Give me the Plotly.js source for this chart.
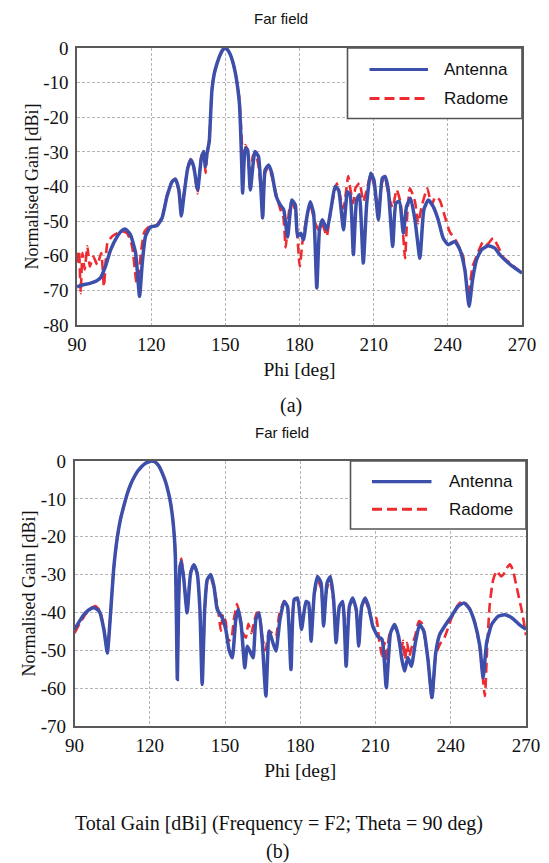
<!DOCTYPE html>
<html>
<head>
<meta charset="utf-8">
<script src="https://cdn.plot.ly/plotly-3.0.1.min.js"></script>
<style>
html,body{margin:0;padding:0;background:#fff;}
#chart{width:549px;height:863px;}
</style>
</head>
<body>
<div id="chart"></div>
<script>
// ---------- Data: plot (a) ----------
const phiAntA = [90,92,95.5,98,99.5,101.5,103.6,106.3,108,109.6,111.6,113.7,115.3,116.4,117.7,119.7,122.4,124.4,126.4,128.5,129.8,131.2,132.2,133.2,134.8,136.1,137.2,138.8,140.2,141.2,141.9,142.6,143.5,144,144.6,145.5,146.5,148,149,150,151,152,153,154,155,155.7,156.2,156.6,157.0,158.1,159.0,160.1,162.0,163.4,165.1,166.1,167.5,168.8,170.6,172.2,173.6,175.2,176.9,178.3,179.2,180.5,181.6,183.0,184.3,185.7,187.0,188.1,189.3,191.1,192.7,194.4,195.8,197.8,199.4,200.5,201.8,203.1,204.2,205.8,207.2,208.8,210.1,211.9,213.5,214.6,215.9,217.7,219.0,220.4,222.0,223.3,224.9,226.7,228.7,230.3,232.1,234.1,236.1,238.1,240.1,242.8,244.9,246.9,248.6,250.0,251.6,253.6,256.3,259.0,261.0,264,267,270];
const gainAntA = [-69,-68.5,-67.9,-67.2,-66.4,-63.1,-58.3,-54.4,-52.8,-52.3,-53.9,-59.2,-71.7,-62.1,-54.4,-51.7,-51.3,-49.1,-42.9,-38.6,-37.9,-41,-48.5,-42.9,-34.7,-32.3,-34.2,-41,-32.3,-29.9,-34.2,-30.4,-27,-20,-12,-7.5,-4.8,-1.8,-0.5,0,-0.6,-1.9,-4,-7,-11.5,-16,-24,-33,-41.9,-28.9,-29.4,-41,-29.9,-31.3,-49.1,-35.2,-33.8,-36.2,-42.9,-45.3,-46.7,-54.6,-43.9,-45.3,-54.4,-53.5,-55.4,-48.7,-44.4,-47.7,-69.3,-52.5,-49.6,-52.5,-46.7,-40,-41,-52.5,-41.5,-42.5,-59.7,-43.9,-42.4,-62.1,-44.8,-36.2,-38.1,-49.6,-37.6,-37.1,-40.9,-57.3,-44.8,-44.3,-53.5,-45.8,-43.4,-49.6,-60.7,-46.7,-43.9,-45.8,-49.6,-54.9,-56.8,-55.9,-58.3,-64.1,-74.6,-66.9,-61.2,-58.3,-57.1,-57.8,-59.7,-61.8,-63.5,-65];

const phiRadA = [90,90.8,91.5,92.2,93.1,94.2,95.2,96.6,98.2,99.8,100.9,102.3,104.2,106.3,108.3,110.3,112.3,114.1,115.0,116.0,117.3,119.1,121.1,122.4,124.4,126.4,128.5,129.8,131.2,132.2,133.2,134.8,136.1,137.2,138.8,140.2,141.2,142.0,142.6,143.5,144,144.6,145.5,146.5,148,149,150,151,152,153,154,155,155.7,156.3,156.8,157.4,158.1,159.0,160.0,161.2,162.2,163.4,164.4,165.2,166.1,167.4,168.8,170.5,172.2,173.5,174.4,175.8,176.9,178.3,180.1,181.2,182.6,184.3,185.9,187.6,188.5,189.6,191,192.8,194.4,195.1,196,197.8,199.7,200.6,201.8,202.6,204.3,205.8,207.2,208.8,210.1,211.9,213.5,214.6,216.3,217.7,219.3,220.9,222.7,223.6,224.7,226.7,228.0,229.4,231.7,233.4,235,236.7,238.8,240.8,243.5,246.2,248.2,250.0,251.6,254.3,255.9,258.3,260.3,262.5,265,267.5,270];
const gainRadA = [-62,-58.5,-70.8,-59.2,-64,-57.3,-63.1,-60.2,-62.6,-59.2,-68.9,-56.3,-54.4,-53.5,-53,-53.5,-57.3,-67.9,-65,-58.3,-53,-51.7,-51.5,-51,-49,-42.5,-38.4,-37.8,-41.5,-47.8,-42.5,-34.5,-32,-34.5,-42,-31.5,-29.5,-36.1,-31,-26.5,-19.5,-12,-7.5,-4.8,-1.8,-0.5,0,-0.6,-1.9,-4,-7,-11,-15,-22,-28.5,-33,-28,-30,-39,-31,-30.5,-34,-40.5,-43,-36,-34.5,-37,-42,-46.5,-49,-57.6,-47,-44.5,-47,-63.1,-56,-50,-45,-49.5,-52.5,-51,-51.5,-54.4,-46,-41,-39.1,-41.5,-46.3,-37,-40.9,-44.8,-40.5,-39,-44.3,-41,-36.5,-39.5,-47.5,-38.5,-37.8,-43.4,-46,-40.9,-44.8,-60.7,-48,-40.5,-44.3,-50.6,-45.8,-40.5,-45.3,-43,-43.9,-48.7,-53.1,-55.9,-60.2,-71.7,-63.1,-60.2,-55.9,-56.8,-54.9,-57.3,-60.5,-62,-63.5,-65];

// ---------- Data: plot (b) ----------
const phiAntB = [90,92,94.4,96.5,97.9,99.9,101.7,103.1,104.2,105.6,107,108.3,109.7,111.1,112.5,113.9,115.3,116.7,118.1,119.5,120.9,122.2,123.5,125,126.3,127.5,128.4,129.2,129.8,130.2,130.6,131.0,131.5,132.0,132.6,133.6,134.9,136.3,137.6,138.9,140.0,140.9,141.9,142.9,144.3,145.6,146.9,148.9,150.3,151.6,152.9,154.3,155.3,156.5,157.9,158.9,159.9,161.2,162.3,163.6,164.9,166.3,167.6,168.9,170.3,171.9,173.6,174.9,176.3,177.6,178.9,180.5,182.3,183.3,184.3,185.6,186.9,188.3,189.3,190.7,192.0,193.3,194.3,195.6,196.9,198.3,199.6,200.9,202.3,203.3,204.5,205.9,207.2,208.9,210.9,212.6,214.3,216.0,217.6,219.2,220.5,221.6,222.9,224.3,225.9,227.6,229.3,230.9,232.5,234.0,235.6,237.6,240.3,242.9,245.3,247.6,249.6,251.6,252.9,254.3,256.3,258.9,261.6,264.3,267,270];
const gainAntB = [-44.5,-42.3,-40.1,-39,-38.8,-39.7,-44.5,-50.7,-41.9,-28.7,-20.5,-15.5,-11.8,-8.5,-6,-4.1,-2.6,-1.5,-0.7,-0.2,0,-0.3,-1.2,-3.2,-5.5,-8.5,-11.5,-15.5,-20,-25,-40,-57.7,-38,-28.5,-26.5,-31.4,-40.1,-29.6,-27.4,-29.6,-39.2,-59,-39.2,-31.4,-30,-33.1,-39.2,-41.4,-44.5,-49.8,-52,-41.9,-39.2,-43.6,-54.6,-48.9,-50.2,-52,-41.9,-40.1,-48,-62.1,-44.9,-47.6,-50.2,-41.9,-37.1,-38.4,-55.1,-36.6,-36.2,-44.5,-37.1,-37.5,-47.6,-34.9,-30.5,-32.2,-43.6,-32.2,-30.5,-36.6,-48,-38.4,-37.1,-54.2,-38.4,-36.2,-39.2,-48.9,-38.4,-36.2,-38.4,-43.6,-46.3,-47.1,-59.9,-45.4,-43.2,-46.3,-52.4,-55.5,-51.9,-54.2,-48,-43.2,-45,-52.4,-62.5,-50.7,-45.8,-43.6,-41,-38.4,-37.5,-39.2,-42.8,-48.9,-57.3,-48,-43.2,-41,-40.6,-41.4,-43,-44.5];

const phiRadB = [90,92,94.4,96.5,98.3,100.2,101.9,103.1,104.2,105.6,107,108.3,109.7,111.1,112.5,113.9,115.3,116.7,118.1,119.5,120.9,122.2,123.5,125,126.3,127.5,128.4,129.2,129.8,130.2,130.6,131.0,131.5,132.0,132.6,133.6,134.9,136.3,137.6,138.9,140.0,140.9,141.9,142.9,144.3,145.6,146.9,147.6,148.3,149.2,150.3,151.2,152.5,153.5,154.8,156,157.2,158.3,159.3,160.5,161.4,162.7,163.8,165,166.2,167.6,168.9,170.3,171.6,173.6,174.9,176.3,177.6,178.9,180.5,182.3,183.3,184.3,185.6,186.9,188.3,189.3,190.7,192.0,193.3,194.3,195.6,196.9,198.3,199.6,200.9,202.3,203.3,204.5,205.9,207.2,208.9,210.3,211.4,212.6,213.6,214.3,215.5,217.6,219.2,220.2,221,221.8,222.6,223.5,224.5,225.9,227.3,228.6,229.9,230.9,232.5,234.0,235.6,237.6,240.3,242.9,244.9,247.6,249.6,251.6,252.6,253.6,254.6,255.6,256.9,258.3,260.1,261,262.3,263.6,264.7,266.8,268.5,270];
const gainRadB = [-45.5,-43,-40.5,-39,-38.3,-39.6,-45,-50.2,-41.9,-28.7,-20.5,-15.5,-11.8,-8.5,-6,-4.1,-2.6,-1.5,-0.7,-0.2,0,-0.3,-1.2,-3.2,-5.5,-8.5,-11.5,-15.5,-20,-25,-40,-56,-37,-27.5,-25.8,-31,-39.5,-29.3,-27.2,-29.8,-39,-57,-39.5,-32,-31,-33.5,-38,-41,-44.8,-40.5,-42.5,-47.5,-47,-42,-37.8,-41,-45.5,-46.7,-43,-45.5,-43,-40,-41,-47,-50,-45,-45.5,-46.5,-40.6,-37,-38.5,-50,-36.8,-36.5,-43,-37.3,-38,-45,-35.5,-31.5,-33.5,-41,-33.5,-31.5,-37.5,-45,-38.5,-37.5,-47,-38.5,-36.8,-39.5,-46,-38.8,-36.8,-39,-42.5,-41.5,-47,-51.5,-48,-53,-46,-43.5,-47,-50,-47.5,-52.5,-48,-51.5,-49,-46,-42.3,-43,-48,-52,-63,-51.5,-48.5,-46.5,-41.5,-38,-37,-39,-42.5,-49.5,-56,-62.1,-48,-37.5,-31.4,-29.1,-30.5,-30,-28.3,-27.3,-28.7,-34.9,-40.1,-46];

// ---------- Axis ticks & labels ----------
const xTicks = [90,120,150,180,210,240,270];
const yTicksA = [0,-10,-20,-30,-40,-50,-60,-70,-80];
const yTicksB = [0,-10,-20,-30,-40,-50,-60,-70];
const seriesNames = ['Antenna','Radome'];
const plotTitle = 'Far field';
const xTitle = 'Phi [deg]';
const yTitle = 'Normalised Gain [dBi]';
const captionA = '(a)';
const captionB = 'Total Gain [dBi] (Frequency = F2; Theta = 90 deg)';
const captionB2 = '(b)';

const BLUE = '#3c4fab';
const RED = '#ee2b30';
const W = 549, H = 863;
const px = v => v / W;
const py = v => 1 - v / H;

const radLine = {color: RED, width: 2.6, dash: '10px,5px', shape: 'spline', smoothing: 0.5};
const antLine = {color: BLUE, width: 3.5, shape: 'spline', smoothing: 0.5};

const traces = [
  {x: phiRadA, y: gainRadA, xaxis: 'x', yaxis: 'y', mode: 'lines', name: seriesNames[1], line: radLine, showlegend: false},
  {x: phiAntA, y: gainAntA, xaxis: 'x', yaxis: 'y', mode: 'lines', name: seriesNames[0], line: antLine, showlegend: false},
  {x: phiRadB, y: gainRadB, xaxis: 'x2', yaxis: 'y2', mode: 'lines', name: seriesNames[1], line: radLine, showlegend: false},
  {x: phiAntB, y: gainAntB, xaxis: 'x2', yaxis: 'y2', mode: 'lines', name: seriesNames[0], line: antLine, showlegend: false}
];

const tickFont = {family: 'Liberation Serif, Times New Roman, serif', size: 19, color: '#111'};
const xTitleFont = {family: 'Liberation Serif, Times New Roman, serif', size: 19.5, color: '#111'};
const yTitleFont = {family: 'Liberation Serif, Times New Roman, serif', size: 18, color: '#111'};

function xAx(domain, anchor) {
  return {
    domain: domain, anchor: anchor, range: [90, 270], autorange: false,
    tickmode: 'array', tickvals: xTicks, ticktext: xTicks.map(String),
    ticks: '', ticklabelstandoff: 2, tickfont: tickFont,
    showgrid: true, gridcolor: '#b4b4b4', gridwidth: 1, griddash: '3px,2px',
    showline: true, linecolor: '#5a5a5a', linewidth: 1.6, mirror: true, zeroline: false,
    title: {text: xTitle, font: xTitleFont, standoff: 8}, automargin: false
  };
}
function yAx(domain, anchor, ticks, range, standoff) {
  return {
    domain: domain, anchor: anchor, range: range, autorange: false,
    tickmode: 'array', tickvals: ticks, ticktext: ticks.map(v => v === 0 ? '0' : '-' + Math.abs(v)),
    ticks: '', ticklabelstandoff: 3, tickfont: tickFont,
    showgrid: true, gridcolor: '#b4b4b4', gridwidth: 1, griddash: '3px,2px',
    showline: true, linecolor: '#5a5a5a', linewidth: 1.6, mirror: true, zeroline: false,
    title: {text: yTitle, font: yTitleFont, standoff: standoff}, automargin: false
  };
}

// Legend geometry (paper px)
function legend(box, y1, y2, lx0, lx1, tx) {
  const shapes = [
    {type: 'rect', xref: 'paper', yref: 'paper', x0: px(box[0]), x1: px(box[1]), y0: py(box[3]), y1: py(box[2]),
     line: {color: '#555', width: 1.6}, fillcolor: '#fff', layer: 'above'},
    {type: 'line', xref: 'paper', yref: 'paper', x0: px(lx0), x1: px(lx1), y0: py(y1), y1: py(y1),
     line: {color: BLUE, width: 3.2}, layer: 'above'},
    {type: 'line', xref: 'paper', yref: 'paper', x0: px(lx0), x1: px(lx1), y0: py(y2), y1: py(y2),
     line: {color: RED, width: 3, dash: '10px,5px'}, layer: 'above'}
  ];
  const legFont = {family: 'Liberation Sans, Arial, sans-serif', size: 17, color: '#111'};
  const anns = [
    {xref: 'paper', yref: 'paper', x: px(tx), y: py(y1), xanchor: 'left', yanchor: 'middle', text: seriesNames[0], showarrow: false, font: legFont},
    {xref: 'paper', yref: 'paper', x: px(tx), y: py(y2), xanchor: 'left', yanchor: 'middle', text: seriesNames[1], showarrow: false, font: legFont}
  ];
  return {shapes, anns};
}
const legA = legend([347.5, 522, 48, 118.5], 69.5, 98.5, 369.5, 428, 442);
const legB = legend([350.5, 526, 461, 529], 481.7, 509.3, 372, 431.5, 447);

const sansFont = {family: 'Liberation Sans, Arial, sans-serif', size: 15, color: '#111'};
const capFont = {family: 'Liberation Serif, Times New Roman, serif', size: 20, color: '#111'};

const annotations = [
  {xref: 'paper', yref: 'paper', x: px(281), y: py(18), text: plotTitle, showarrow: false, font: sansFont, xanchor: 'center', yanchor: 'middle'},
  {xref: 'paper', yref: 'paper', x: px(282), y: py(433), text: plotTitle, showarrow: false, font: sansFont, xanchor: 'center', yanchor: 'middle'},
  {xref: 'paper', yref: 'paper', x: px(290.5), y: py(405), text: captionA, showarrow: false, font: capFont, xanchor: 'center', yanchor: 'middle'},
  {xref: 'paper', yref: 'paper', x: px(279), y: py(823), text: captionB, showarrow: false, font: capFont, xanchor: 'center', yanchor: 'middle'},
  {xref: 'paper', yref: 'paper', x: px(277.5), y: py(851.5), text: captionB2, showarrow: false, font: capFont, xanchor: 'center', yanchor: 'middle'}
].concat(legA.anns, legB.anns);

const layout = {
  width: W, height: H,
  margin: {l: 0, r: 0, t: 0, b: 0, pad: 0},
  paper_bgcolor: '#fff', plot_bgcolor: '#fff',
  showlegend: false,
  xaxis: xAx([px(77), px(522)], 'y'),
  yaxis: yAx([py(325), py(48)], 'x', yTicksA, [-80, 0], 0),
  xaxis2: xAx([px(74.5), px(526)], 'y2'),
  yaxis2: yAx([py(726), py(461)], 'x2', yTicksB, [-70, 0], 0),
  shapes: legA.shapes.concat(legB.shapes),
  annotations: annotations
};

Plotly.newPlot('chart', traces, layout, {staticPlot: true, displayModeBar: false});
</script>
</body>
</html>
